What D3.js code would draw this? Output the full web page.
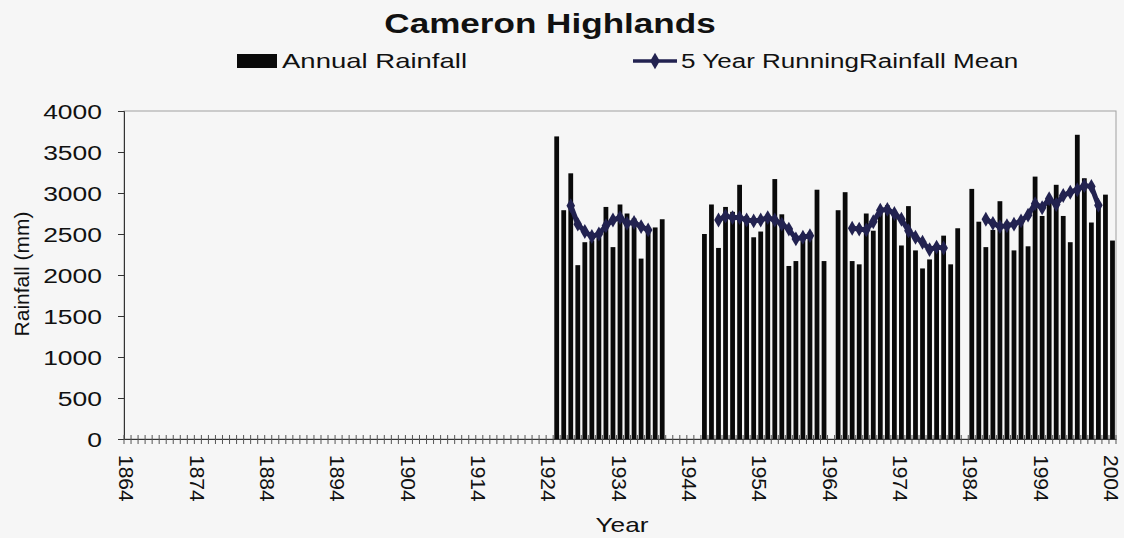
<!DOCTYPE html>
<html>
<head>
<meta charset="utf-8">
<script src="https://cdn.jsdelivr.net/npm/d3@7"></script>
<style>
  body { margin: 0; background: #f6f6f6; }
  svg { display: block; }
  text { font-family: "Liberation Sans", Arial, sans-serif; fill: #111; }
</style>
</head>
<body>
<svg id="chart" width="1124" height="538"></svg>
<script>
// Category axis: one slot per year
const years = d3.range(1864, 2005);
const xTickLabels = [1864, 1874, 1884, 1894, 1904, 1914, 1924, 1934, 1944, 1954, 1964, 1974, 1984, 1994, 2004];
const yTicks = [0, 500, 1000, 1500, 2000, 2500, 3000, 3500, 4000];

// Annual rainfall (mm), 1925–2004; null = no record
const rainYears = d3.range(1925, 2005);
const annualRainfall = [
  3690, 2790, 3240, 2120, 2400, 2420, 2460, 2830, 2340, 2860, // 1925-1934
  2750, 2690, 2200, 2520, 2580, 2680, null, null, null, null, // 1935-1944
  null, 2500, 2860, 2330, 2830, 2770, 3100, 2720, 2460, 2530, // 1945-1954
  2720, 3170, 2740, 2110, 2170, 2500, 2520, 3040, 2170, null, // 1955-1964
  2790, 3010, 2170, 2130, 2750, 2540, 2780, 2850, 2760, 2360, // 1965-1974
  2840, 2300, 2080, 2190, 2330, 2480, 2130, 2570, null, 3050, // 1975-1984
  2650, 2340, 2550, 2900, 2650, 2300, 2680, 2350, 3200, 2720, // 1985-1994
  2950, 3100, 2720, 2400, 3710, 3180, 2640, 2850, 2980, 2420  // 1995-2004
];

// 5-year running mean (mm), same years
const runningMean = [
  null, null, 2845, 2620, 2530, 2470, 2500, 2600, 2670, 2700, // 1925-1934
  2630, 2640, 2590, 2550, null, null, null, null, null, null, // 1935-1944
  null, null, null, 2670, 2720, 2700, 2700, 2670, 2660, 2670, // 1945-1954
  2700, 2670, 2620, 2560, 2440, 2460, 2480, null, null, null, // 1955-1964
  null, null, 2570, 2560, 2550, 2650, 2790, 2800, 2750, 2680, // 1965-1974
  2540, 2460, 2400, 2310, 2340, 2330, null, null, null, null, // 1975-1984
  null, 2680, 2630, 2590, 2600, 2620, 2660, 2730, 2870, 2820, // 1985-1994
  2930, 2860, 2970, 3010, 3040, 3090, 3080, 2850, null, null  // 1995-2004
];

const svg = d3.select("#chart");
const plot = { left: 124, right: 1116, top: 111, bottom: 439 };
const barColor = "#0a0a0a";
const lineColor = "#222250";

const x = d3.scaleBand()
  .domain(years)
  .range([plot.left, plot.right])
  .paddingInner(0.32)
  .paddingOuter(0.16);
const cx = yr => x(yr) + x.bandwidth() / 2;

const y = d3.scaleLinear().domain([0, 4000]).range([plot.bottom, plot.top]);

// Plot area frame
svg.append("rect")
  .attr("x", plot.left).attr("y", plot.top)
  .attr("width", plot.right - plot.left).attr("height", plot.bottom - plot.top)
  .attr("fill", "none").attr("stroke", "#a0a0a0").attr("stroke-width", 1);

// Bars
const rain = rainYears.map((yr, i) => ({ year: yr, value: annualRainfall[i], mean: runningMean[i] }));
svg.append("g")
  .selectAll("rect")
  .data(rain.filter(d => d.value != null))
  .join("rect")
  .attr("x", d => x(d.year))
  .attr("width", x.bandwidth())
  .attr("y", d => y(d.value))
  .attr("height", d => y(0) - y(d.value))
  .attr("fill", barColor);

// Y axis
const yAxis = svg.append("g")
  .attr("transform", `translate(${plot.left},0)`)
  .call(d3.axisLeft(y).tickValues(yTicks).tickSize(6).tickFormat(d3.format("d")));
yAxis.select(".domain").attr("stroke", "#333");
yAxis.selectAll(".tick line").attr("stroke", "#333");
yAxis.selectAll(".tick text")
  .attr("x", 0).attr("dy", "0.35em")
  .attr("text-anchor", "end")
  .attr("transform", "translate(-22,0) scale(1.26,1)")
  .style("font-size", "21px").style("fill", "#111");

// X axis: line, ticks at category boundaries, labels every ten years
const xAxis = svg.append("g")
  .attr("transform", `translate(0,${plot.bottom})`)
  .call(d3.axisBottom(x).tickValues(xTickLabels).tickSize(0).tickPadding(0));
xAxis.select(".domain").attr("stroke", "#333");
xAxis.selectAll(".tick text")
  .attr("y", 0).attr("dy", "0.35em")
  .attr("text-anchor", "start")
  .attr("transform", "translate(-1,16) rotate(90)")
  .style("font-size", "21px").style("fill", "#111");

const boundaries = years.map(yr => x(yr) - (x.step() - x.bandwidth()) / 2).concat([plot.right]);
svg.append("g")
  .selectAll("line")
  .data(boundaries)
  .join("line")
  .attr("x1", d => d).attr("x2", d => d)
  .attr("y1", plot.bottom - 4).attr("y2", plot.bottom + 5)
  .attr("stroke", "#555").attr("stroke-width", 1);

// Running mean line, broken where data is missing
const line = d3.line()
  .defined(d => d.mean != null)
  .x(d => cx(d.year))
  .y(d => y(d.mean));
svg.append("path")
  .datum(rain)
  .attr("d", line)
  .attr("fill", "none")
  .attr("stroke", lineColor)
  .attr("stroke-width", 5)
  .attr("stroke-linejoin", "round")
  .attr("stroke-linecap", "round");

const diamond = d3.symbol(d3.symbolDiamond, 64);
svg.append("g")
  .selectAll("path")
  .data(rain.filter(d => d.mean != null))
  .join("path")
  .attr("d", diamond)
  .attr("transform", d => `translate(${cx(d.year)},${y(d.mean)})`)
  .attr("fill", lineColor);

// Title
svg.append("text")
  .attr("text-anchor", "middle")
  .attr("transform", "translate(550,33) scale(1.3,1)")
  .style("font-size", "27px").style("font-weight", "bold")
  .text("Cameron Highlands");

// Legend
const legend = svg.append("g");
legend.append("rect")
  .attr("x", 237).attr("y", 54).attr("width", 40).attr("height", 14)
  .attr("fill", barColor);
legend.append("text")
  .attr("transform", "translate(282,68) scale(1.31,1)")
  .style("font-size", "21px")
  .text("Annual Rainfall");
legend.append("line")
  .attr("x1", 633).attr("x2", 677).attr("y1", 61).attr("y2", 61)
  .attr("stroke", lineColor).attr("stroke-width", 3.5);
legend.append("path")
  .attr("d", d3.symbol(d3.symbolDiamond, 80))
  .attr("transform", "translate(655,61)")
  .attr("fill", lineColor);
legend.append("text")
  .attr("transform", "translate(681,68) scale(1.24,1)")
  .style("font-size", "21px")
  .text("5 Year RunningRainfall Mean");

// Axis titles
svg.append("text")
  .attr("text-anchor", "middle").attr("dy", "0.35em")
  .attr("transform", "translate(22,274) rotate(-90)")
  .style("font-size", "21px")
  .text("Rainfall (mm)");
svg.append("text")
  .attr("text-anchor", "middle")
  .attr("transform", "translate(622,532) scale(1.25,1)")
  .style("font-size", "21px")
  .text("Year");
</script>
</body>
</html>
